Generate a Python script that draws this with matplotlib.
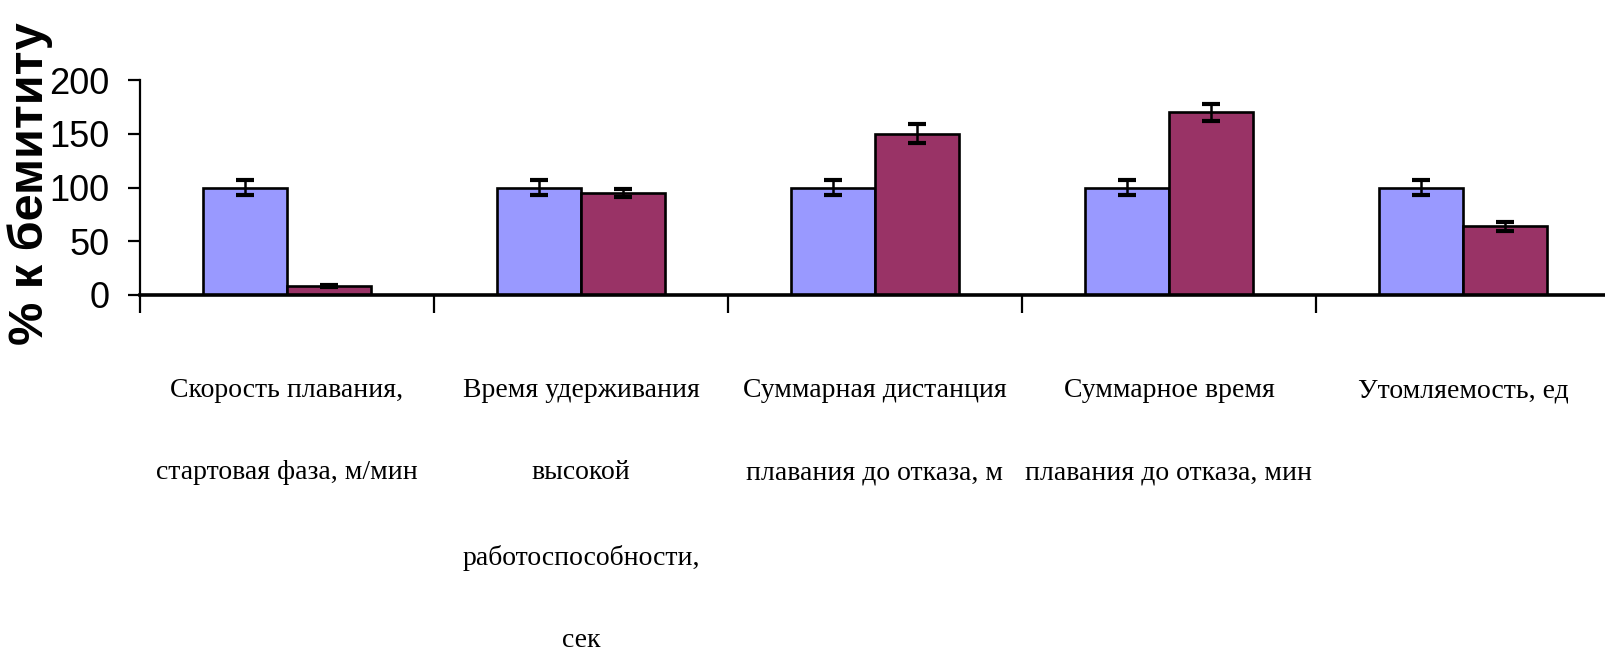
import numpy as np
import matplotlib.pyplot as plt

# данные
categories = ['Скорость плавания,\nстартовая фаза, м/мин',
              'Время удерживания\nвысокой\nработоспособности,\nсек',
              'Суммарная дистанция\nплавания до отказа, м',
              'Суммарное время\nплавания до отказа, мин',
              'Утомляемость, ед']
control = [100, 100, 100, 100, 100]
control_err = [7, 7, 7, 7, 7]
treated = [8, 95, 150, 170, 64]
treated_err = [1, 4, 9, 8, 4]
yticks = [0, 50, 100, 150, 200]

fig = plt.figure(figsize=(16.06, 6.58), dpi=100)
ax = fig.add_axes([140 / 1606, 1 - 295 / 658, 1470 / 1606, 215 / 658])

x = np.arange(len(categories)) + 0.5
w = 0.286
err_kw = dict(ecolor='black', elinewidth=1.8, capsize=6.5, capthick=3)
ax.bar(x - w / 2, control, w, yerr=control_err, color='#9999FF',
       edgecolor='black', linewidth=1.9, error_kw=err_kw, zorder=2)
ax.bar(x + w / 2, treated, w, yerr=treated_err, color='#993366',
       edgecolor='black', linewidth=1.9, error_kw=err_kw, zorder=2)

ax.set_xlim(0, len(categories))
ax.set_ylim(0, 200)
ax.set_yticks(yticks)
ax.set_yticklabels([str(v) for v in yticks], family='Liberation Sans', fontsize=26)
ax.tick_params(axis='y', direction='out', length=9, width=1.6, pad=13)

# границы категорий — большие деления, подписи — малые
ax.set_xticks(np.arange(len(categories) + 1))
ax.set_xticklabels([])
ax.set_xticks(x, minor=True)
ax.set_xticklabels(categories, minor=True, family='Liberation Serif',
                   fontsize=20, linespacing=4.0, multialignment='center')
ax.tick_params(axis='x', which='major', direction='out', length=13, width=1.6)
ax.tick_params(axis='x', which='minor', length=0, pad=60)

for s in ['top', 'right']:
    ax.spines[s].set_visible(False)
ax.spines['left'].set_linewidth(1.6)
ax.spines['bottom'].set_linewidth(2.6)
ax.spines['bottom'].set_zorder(3)

fig.text(30 / 1606, 1 - 345 / 658, '% к бемититу', rotation=90,
         ha='center', va='bottom', fontsize=35, fontweight='bold',
         family='Liberation Sans')

fig.savefig('out.png', dpi=100)
